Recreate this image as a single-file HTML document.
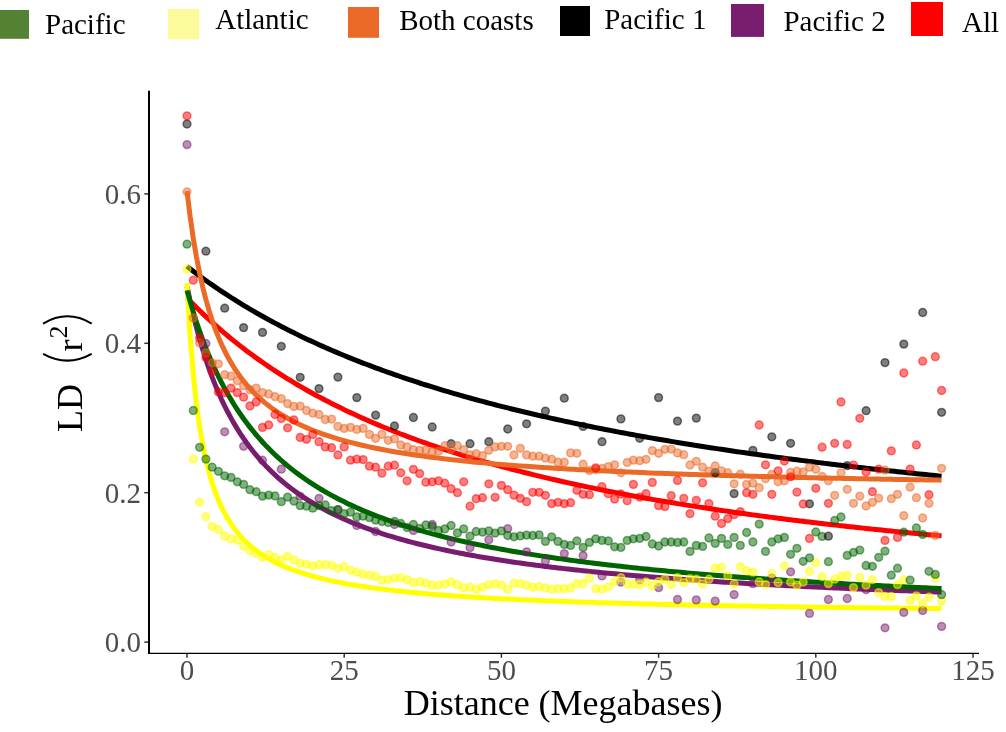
<!DOCTYPE html>
<html><head><meta charset="utf-8"><title>LD decay</title>
<style>
html,body{margin:0;padding:0;background:#fff;}
body{width:1006px;height:732px;overflow:hidden;}
svg{display:block;font-family:"Liberation Serif",serif;will-change:transform;}
</style></head><body>
<svg width="1006" height="732" viewBox="0 0 1006 732">
<rect width="1006" height="732" fill="#fff"/>

<g font-size="29" fill="#000">
<rect x="0" y="10" width="29" height="28.8" fill="#548235"/>
<text x="45" y="33.5">Pacific</text>
<rect x="168" y="9" width="31.4" height="30.4" fill="#FBFB9C"/>
<text x="215.2" y="29.4">Atlantic</text>
<rect x="348" y="7" width="31" height="30.8" fill="#EC6A27"/>
<text x="399.2" y="30.3">Both coasts</text>
<rect x="560" y="6" width="30" height="30" fill="#000000"/>
<text x="604.2" y="29.4">Pacific 1</text>
<rect x="731" y="4" width="33" height="32.9" fill="#781D6E"/>
<text x="783.4" y="31">Pacific 2</text>
<rect x="911" y="2" width="32" height="34" fill="#FF0000"/>
<text x="962" y="31.8">All</text>
</g>
<g stroke="#000" fill="none">
<line x1="149" y1="90.7" x2="149" y2="654" stroke-width="2"/>
<line x1="148" y1="653.4" x2="979" y2="653.4" stroke-width="1.3"/>
</g>
<g stroke="#333" stroke-width="1.5">
<line x1="144.3" y1="642.10" x2="148" y2="642.10"/>
<line x1="144.3" y1="492.70" x2="148" y2="492.70"/>
<line x1="144.3" y1="343.30" x2="148" y2="343.30"/>
<line x1="144.3" y1="193.90" x2="148" y2="193.90"/>
<line x1="187.00" y1="654" x2="187.00" y2="657.8"/>
<line x1="344.20" y1="654" x2="344.20" y2="657.8"/>
<line x1="501.40" y1="654" x2="501.40" y2="657.8"/>
<line x1="658.60" y1="654" x2="658.60" y2="657.8"/>
<line x1="815.80" y1="654" x2="815.80" y2="657.8"/>
<line x1="973.00" y1="654" x2="973.00" y2="657.8"/>
</g>
<g font-size="29" fill="#4D4D4D">
<text x="141" y="651.90" text-anchor="end">0.0</text>
<text x="141" y="502.50" text-anchor="end">0.2</text>
<text x="141" y="353.10" text-anchor="end">0.4</text>
<text x="141" y="203.70" text-anchor="end">0.6</text>
<text x="187.00" y="680.3" text-anchor="middle">0</text>
<text x="344.20" y="680.3" text-anchor="middle">25</text>
<text x="501.40" y="680.3" text-anchor="middle">50</text>
<text x="658.60" y="680.3" text-anchor="middle">75</text>
<text x="815.80" y="680.3" text-anchor="middle">100</text>
<text x="973.00" y="680.3" text-anchor="middle">125</text>
</g>
<text x="563.1" y="715.2" font-size="36" text-anchor="middle" fill="#000">Distance (Megabases)</text>
<g transform="translate(82,432) rotate(-90)" fill="#000">
<text x="0" y="0" font-size="36">LD</text>
<text x="80.6" y="0" font-size="36">r</text>
<text x="93.5" y="-15" font-size="26">2</text>
<path d="M78.1,-38.9 Q64.7,-14.6 78.1,9.7" fill="none" stroke="#000" stroke-width="2.1"/>
<path d="M108.4,-38.9 Q123,-14.6 108.4,9.7" fill="none" stroke="#000" stroke-width="2.1"/>
</g>
<g fill="none" stroke-width="5" stroke-linejoin="round" stroke-linecap="butt">
<path d="M187.00,266.40 L190.14,268.84 L193.29,271.24 L196.43,273.60 L199.58,275.93 L202.72,278.23 L205.86,280.49 L209.01,282.72 L212.15,284.92 L215.30,287.09 L218.44,289.23 L221.58,291.34 L224.73,293.41 L227.87,295.46 L231.02,297.49 L234.16,299.48 L237.30,301.45 L240.45,303.39 L243.59,305.31 L246.74,307.20 L249.88,309.06 L253.02,310.90 L256.17,312.72 L259.31,314.52 L262.46,316.29 L265.60,318.04 L268.74,319.76 L271.89,321.47 L275.03,323.15 L278.18,324.82 L281.32,326.46 L284.46,328.08 L287.61,329.68 L290.75,331.27 L293.90,332.83 L297.04,334.38 L300.18,335.90 L303.33,337.41 L306.47,338.91 L309.62,340.38 L312.76,341.84 L315.90,343.28 L319.05,344.70 L322.19,346.11 L325.34,347.50 L328.48,348.88 L331.62,350.24 L334.77,351.59 L337.91,352.92 L341.06,354.23 L344.20,355.53 L347.34,356.82 L350.49,358.10 L353.63,359.36 L356.78,360.60 L359.92,361.84 L363.06,363.06 L366.21,364.26 L369.35,365.46 L372.50,366.64 L375.64,367.81 L378.78,368.97 L381.93,370.11 L385.07,371.25 L388.22,372.37 L391.36,373.48 L394.50,374.58 L397.65,375.67 L400.79,376.75 L403.94,377.82 L407.08,378.87 L410.22,379.92 L413.37,380.96 L416.51,381.98 L419.66,383.00 L422.80,384.01 L425.94,385.00 L429.09,385.99 L432.23,386.97 L435.38,387.94 L438.52,388.90 L441.66,389.85 L444.81,390.79 L447.95,391.72 L451.10,392.65 L454.24,393.57 L457.38,394.47 L460.53,395.37 L463.67,396.26 L466.82,397.15 L469.96,398.02 L473.10,398.89 L476.25,399.75 L479.39,400.60 L482.54,401.45 L485.68,402.29 L488.82,403.12 L491.97,403.94 L495.11,404.75 L498.26,405.56 L501.40,406.36 L504.54,407.16 L507.69,407.95 L510.83,408.73 L513.98,409.50 L517.12,410.27 L520.26,411.03 L523.41,411.79 L526.55,412.54 L529.70,413.28 L532.84,414.02 L535.98,414.75 L539.13,415.47 L542.27,416.19 L545.42,416.91 L548.56,417.61 L551.70,418.32 L554.85,419.01 L557.99,419.70 L561.14,420.39 L564.28,421.07 L567.42,421.74 L570.57,422.41 L573.71,423.08 L576.86,423.73 L580.00,424.39 L583.14,425.04 L586.29,425.68 L589.43,426.32 L592.58,426.95 L595.72,427.58 L598.86,428.21 L602.01,428.82 L605.15,429.44 L608.30,430.05 L611.44,430.66 L614.58,431.26 L617.73,431.85 L620.87,432.45 L624.02,433.03 L627.16,433.62 L630.30,434.20 L633.45,434.77 L636.59,435.34 L639.74,435.91 L642.88,436.47 L646.02,437.03 L649.17,437.59 L652.31,438.14 L655.46,438.68 L658.60,439.23 L661.74,439.77 L664.89,440.30 L668.03,440.83 L671.18,441.36 L674.32,441.89 L677.46,442.41 L680.61,442.92 L683.75,443.44 L686.90,443.95 L690.04,444.45 L693.18,444.96 L696.33,445.46 L699.47,445.95 L702.62,446.45 L705.76,446.94 L708.90,447.42 L712.05,447.91 L715.19,448.39 L718.34,448.86 L721.48,449.34 L724.62,449.81 L727.77,450.27 L730.91,450.74 L734.06,451.20 L737.20,451.66 L740.34,452.11 L743.49,452.57 L746.63,453.02 L749.78,453.46 L752.92,453.91 L756.06,454.35 L759.21,454.79 L762.35,455.22 L765.50,455.66 L768.64,456.09 L771.78,456.51 L774.93,456.94 L778.07,457.36 L781.22,457.78 L784.36,458.20 L787.50,458.61 L790.65,459.02 L793.79,459.43 L796.94,459.84 L800.08,460.24 L803.22,460.64 L806.37,461.04 L809.51,461.44 L812.66,461.83 L815.80,462.23 L818.94,462.62 L822.09,463.00 L825.23,463.39 L828.38,463.77 L831.52,464.15 L834.66,464.53 L837.81,464.91 L840.95,465.28 L844.10,465.65 L847.24,466.02 L850.38,466.39 L853.53,466.76 L856.67,467.12 L859.82,467.48 L862.96,467.84 L866.10,468.20 L869.25,468.55 L872.39,468.90 L875.54,469.26 L878.68,469.60 L881.82,469.95 L884.97,470.30 L888.11,470.64 L891.26,470.98 L894.40,471.32 L897.54,471.66 L900.69,471.99 L903.83,472.33 L906.98,472.66 L910.12,472.99 L913.26,473.32 L916.41,473.64 L919.55,473.97 L922.70,474.29 L925.84,474.61 L928.98,474.93 L932.13,475.25 L935.27,475.57 L938.42,475.88 L941.56,476.19" stroke="#000000"/>
<path d="M187.00,297.90 L190.14,301.16 L193.29,304.36 L196.43,307.50 L199.58,310.58 L202.72,313.61 L205.86,316.58 L209.01,319.50 L212.15,322.38 L215.30,325.20 L218.44,327.97 L221.58,330.70 L224.73,333.38 L227.87,336.01 L231.02,338.60 L234.16,341.15 L237.30,343.66 L240.45,346.13 L243.59,348.55 L246.74,350.94 L249.88,353.29 L253.02,355.60 L256.17,357.88 L259.31,360.12 L262.46,362.32 L265.60,364.49 L268.74,366.63 L271.89,368.74 L275.03,370.81 L278.18,372.86 L281.32,374.87 L284.46,376.85 L287.61,378.81 L290.75,380.73 L293.90,382.63 L297.04,384.50 L300.18,386.35 L303.33,388.16 L306.47,389.96 L309.62,391.72 L312.76,393.47 L315.90,395.18 L319.05,396.88 L322.19,398.55 L325.34,400.20 L328.48,401.83 L331.62,403.43 L334.77,405.02 L337.91,406.58 L341.06,408.12 L344.20,409.64 L347.34,411.14 L350.49,412.63 L353.63,414.09 L356.78,415.54 L359.92,416.96 L363.06,418.37 L366.21,419.76 L369.35,421.13 L372.50,422.49 L375.64,423.83 L378.78,425.15 L381.93,426.46 L385.07,427.75 L388.22,429.03 L391.36,430.29 L394.50,431.53 L397.65,432.76 L400.79,433.98 L403.94,435.18 L407.08,436.37 L410.22,437.54 L413.37,438.70 L416.51,439.85 L419.66,440.98 L422.80,442.10 L425.94,443.21 L429.09,444.30 L432.23,445.39 L435.38,446.46 L438.52,447.52 L441.66,448.57 L444.81,449.60 L447.95,450.63 L451.10,451.64 L454.24,452.64 L457.38,453.63 L460.53,454.61 L463.67,455.58 L466.82,456.54 L469.96,457.49 L473.10,458.43 L476.25,459.36 L479.39,460.28 L482.54,461.20 L485.68,462.10 L488.82,462.99 L491.97,463.87 L495.11,464.75 L498.26,465.61 L501.40,466.47 L504.54,467.32 L507.69,468.15 L510.83,468.99 L513.98,469.81 L517.12,470.62 L520.26,471.43 L523.41,472.23 L526.55,473.02 L529.70,473.80 L532.84,474.58 L535.98,475.35 L539.13,476.11 L542.27,476.86 L545.42,477.61 L548.56,478.35 L551.70,479.08 L554.85,479.81 L557.99,480.52 L561.14,481.24 L564.28,481.94 L567.42,482.64 L570.57,483.33 L573.71,484.02 L576.86,484.70 L580.00,485.37 L583.14,486.04 L586.29,486.70 L589.43,487.36 L592.58,488.01 L595.72,488.65 L598.86,489.29 L602.01,489.93 L605.15,490.55 L608.30,491.18 L611.44,491.79 L614.58,492.40 L617.73,493.01 L620.87,493.61 L624.02,494.21 L627.16,494.80 L630.30,495.38 L633.45,495.96 L636.59,496.54 L639.74,497.11 L642.88,497.67 L646.02,498.24 L649.17,498.79 L652.31,499.34 L655.46,499.89 L658.60,500.43 L661.74,500.97 L664.89,501.51 L668.03,502.04 L671.18,502.56 L674.32,503.08 L677.46,503.60 L680.61,504.11 L683.75,504.62 L686.90,505.13 L690.04,505.63 L693.18,506.13 L696.33,506.62 L699.47,507.11 L702.62,507.59 L705.76,508.07 L708.90,508.55 L712.05,509.03 L715.19,509.50 L718.34,509.96 L721.48,510.43 L724.62,510.89 L727.77,511.34 L730.91,511.80 L734.06,512.24 L737.20,512.69 L740.34,513.13 L743.49,513.57 L746.63,514.01 L749.78,514.44 L752.92,514.87 L756.06,515.30 L759.21,515.72 L762.35,516.14 L765.50,516.56 L768.64,516.97 L771.78,517.38 L774.93,517.79 L778.07,518.20 L781.22,518.60 L784.36,519.00 L787.50,519.40 L790.65,519.79 L793.79,520.18 L796.94,520.57 L800.08,520.95 L803.22,521.34 L806.37,521.72 L809.51,522.09 L812.66,522.47 L815.80,522.84 L818.94,523.21 L822.09,523.58 L825.23,523.94 L828.38,524.30 L831.52,524.66 L834.66,525.02 L837.81,525.38 L840.95,525.73 L844.10,526.08 L847.24,526.43 L850.38,526.77 L853.53,527.11 L856.67,527.46 L859.82,527.79 L862.96,528.13 L866.10,528.46 L869.25,528.80 L872.39,529.13 L875.54,529.45 L878.68,529.78 L881.82,530.10 L884.97,530.42 L888.11,530.74 L891.26,531.06 L894.40,531.37 L897.54,531.69 L900.69,532.00 L903.83,532.31 L906.98,532.61 L910.12,532.92 L913.26,533.22 L916.41,533.52 L919.55,533.82 L922.70,534.12 L925.84,534.42 L928.98,534.71 L932.13,535.00 L935.27,535.29 L938.42,535.58 L941.56,535.87" stroke="#FF0000"/>
<path d="M187.00,286.38 L190.14,301.32 L193.29,314.96 L196.43,327.47 L199.58,338.99 L202.72,349.62 L205.86,359.48 L209.01,368.63 L212.15,377.15 L215.30,385.11 L218.44,392.56 L221.58,399.55 L224.73,406.12 L227.87,412.30 L231.02,418.13 L234.16,423.64 L237.30,428.86 L240.45,433.80 L243.59,438.49 L246.74,442.95 L249.88,447.19 L253.02,451.23 L256.17,455.08 L259.31,458.76 L262.46,462.28 L265.60,465.65 L268.74,468.87 L271.89,471.96 L275.03,474.93 L278.18,477.78 L281.32,480.51 L284.46,483.15 L287.61,485.68 L290.75,488.12 L293.90,490.48 L297.04,492.75 L300.18,494.94 L303.33,497.05 L306.47,499.10 L309.62,501.08 L312.76,502.99 L315.90,504.84 L319.05,506.64 L322.19,508.37 L325.34,510.06 L328.48,511.69 L331.62,513.28 L334.77,514.82 L337.91,516.32 L341.06,517.77 L344.20,519.18 L347.34,520.56 L350.49,521.90 L353.63,523.20 L356.78,524.46 L359.92,525.70 L363.06,526.90 L366.21,528.07 L369.35,529.21 L372.50,530.33 L375.64,531.42 L378.78,532.48 L381.93,533.51 L385.07,534.52 L388.22,535.51 L391.36,536.48 L394.50,537.42 L397.65,538.34 L400.79,539.24 L403.94,540.12 L407.08,540.99 L410.22,541.83 L413.37,542.66 L416.51,543.46 L419.66,544.26 L422.80,545.03 L425.94,545.79 L429.09,546.53 L432.23,547.26 L435.38,547.98 L438.52,548.68 L441.66,549.37 L444.81,550.04 L447.95,550.70 L451.10,551.35 L454.24,551.99 L457.38,552.61 L460.53,553.23 L463.67,553.83 L466.82,554.42 L469.96,555.00 L473.10,555.57 L476.25,556.13 L479.39,556.69 L482.54,557.23 L485.68,557.76 L488.82,558.28 L491.97,558.80 L495.11,559.30 L498.26,559.80 L501.40,560.29 L504.54,560.77 L507.69,561.25 L510.83,561.71 L513.98,562.17 L517.12,562.63 L520.26,563.07 L523.41,563.51 L526.55,563.94 L529.70,564.36 L532.84,564.78 L535.98,565.20 L539.13,565.60 L542.27,566.00 L545.42,566.40 L548.56,566.78 L551.70,567.17 L554.85,567.54 L557.99,567.92 L561.14,568.28 L564.28,568.64 L567.42,569.00 L570.57,569.35 L573.71,569.70 L576.86,570.04 L580.00,570.38 L583.14,570.71 L586.29,571.04 L589.43,571.37 L592.58,571.69 L595.72,572.00 L598.86,572.31 L602.01,572.62 L605.15,572.92 L608.30,573.22 L611.44,573.52 L614.58,573.81 L617.73,574.10 L620.87,574.39 L624.02,574.67 L627.16,574.95 L630.30,575.22 L633.45,575.49 L636.59,575.76 L639.74,576.03 L642.88,576.29 L646.02,576.55 L649.17,576.80 L652.31,577.05 L655.46,577.30 L658.60,577.55 L661.74,577.79 L664.89,578.04 L668.03,578.27 L671.18,578.51 L674.32,578.74 L677.46,578.97 L680.61,579.20 L683.75,579.43 L686.90,579.65 L690.04,579.87 L693.18,580.09 L696.33,580.30 L699.47,580.52 L702.62,580.73 L705.76,580.94 L708.90,581.15 L712.05,581.35 L715.19,581.55 L718.34,581.75 L721.48,581.95 L724.62,582.15 L727.77,582.34 L730.91,582.53 L734.06,582.72 L737.20,582.91 L740.34,583.10 L743.49,583.28 L746.63,583.47 L749.78,583.65 L752.92,583.83 L756.06,584.00 L759.21,584.18 L762.35,584.35 L765.50,584.53 L768.64,584.70 L771.78,584.87 L774.93,585.03 L778.07,585.20 L781.22,585.36 L784.36,585.53 L787.50,585.69 L790.65,585.85 L793.79,586.01 L796.94,586.16 L800.08,586.32 L803.22,586.47 L806.37,586.63 L809.51,586.78 L812.66,586.93 L815.80,587.08 L818.94,587.22 L822.09,587.37 L825.23,587.51 L828.38,587.66 L831.52,587.80 L834.66,587.94 L837.81,588.08 L840.95,588.22 L844.10,588.36 L847.24,588.49 L850.38,588.63 L853.53,588.76 L856.67,588.89 L859.82,589.02 L862.96,589.16 L866.10,589.28 L869.25,589.41 L872.39,589.54 L875.54,589.67 L878.68,589.79 L881.82,589.92 L884.97,590.04 L888.11,590.16 L891.26,590.28 L894.40,590.40 L897.54,590.52 L900.69,590.64 L903.83,590.76 L906.98,590.87 L910.12,590.99 L913.26,591.10 L916.41,591.22 L919.55,591.33 L922.70,591.44 L925.84,591.55 L928.98,591.66 L932.13,591.77 L935.27,591.88 L938.42,591.99 L941.56,592.10" stroke="#781D6E"/>
<path d="M187.00,283.18 L190.14,336.20 L193.29,374.53 L196.43,403.55 L199.58,426.29 L202.72,444.59 L205.86,459.64 L209.01,472.24 L212.15,482.94 L215.30,492.14 L218.44,500.14 L221.58,507.16 L224.73,513.37 L227.87,518.91 L231.02,523.87 L234.16,528.34 L237.30,532.40 L240.45,536.10 L243.59,539.48 L246.74,542.58 L249.88,545.44 L253.02,548.08 L256.17,550.53 L259.31,552.81 L262.46,554.93 L265.60,556.92 L268.74,558.78 L271.89,560.52 L275.03,562.16 L278.18,563.71 L281.32,565.17 L284.46,566.55 L287.61,567.86 L290.75,569.10 L293.90,570.27 L297.04,571.39 L300.18,572.45 L303.33,573.47 L306.47,574.44 L309.62,575.36 L312.76,576.25 L315.90,577.09 L319.05,577.91 L322.19,578.68 L325.34,579.43 L328.48,580.15 L331.62,580.84 L334.77,581.50 L337.91,582.14 L341.06,582.76 L344.20,583.35 L347.34,583.92 L350.49,584.47 L353.63,585.01 L356.78,585.53 L359.92,586.02 L363.06,586.51 L366.21,586.98 L369.35,587.43 L372.50,587.87 L375.64,588.29 L378.78,588.71 L381.93,589.11 L385.07,589.50 L388.22,589.88 L391.36,590.24 L394.50,590.60 L397.65,590.95 L400.79,591.29 L403.94,591.62 L407.08,591.94 L410.22,592.25 L413.37,592.55 L416.51,592.85 L419.66,593.14 L422.80,593.42 L425.94,593.69 L429.09,593.96 L432.23,594.23 L435.38,594.48 L438.52,594.73 L441.66,594.98 L444.81,595.21 L447.95,595.45 L451.10,595.68 L454.24,595.90 L457.38,596.12 L460.53,596.33 L463.67,596.54 L466.82,596.74 L469.96,596.94 L473.10,597.14 L476.25,597.33 L479.39,597.52 L482.54,597.71 L485.68,597.89 L488.82,598.06 L491.97,598.24 L495.11,598.41 L498.26,598.58 L501.40,598.74 L504.54,598.90 L507.69,599.06 L510.83,599.22 L513.98,599.37 L517.12,599.52 L520.26,599.67 L523.41,599.81 L526.55,599.95 L529.70,600.09 L532.84,600.23 L535.98,600.36 L539.13,600.50 L542.27,600.63 L545.42,600.75 L548.56,600.88 L551.70,601.00 L554.85,601.13 L557.99,601.25 L561.14,601.36 L564.28,601.48 L567.42,601.59 L570.57,601.71 L573.71,601.82 L576.86,601.93 L580.00,602.03 L583.14,602.14 L586.29,602.24 L589.43,602.35 L592.58,602.45 L595.72,602.55 L598.86,602.65 L602.01,602.74 L605.15,602.84 L608.30,602.93 L611.44,603.03 L614.58,603.12 L617.73,603.21 L620.87,603.30 L624.02,603.38 L627.16,603.47 L630.30,603.56 L633.45,603.64 L636.59,603.72 L639.74,603.80 L642.88,603.89 L646.02,603.97 L649.17,604.04 L652.31,604.12 L655.46,604.20 L658.60,604.27 L661.74,604.35 L664.89,604.42 L668.03,604.50 L671.18,604.57 L674.32,604.64 L677.46,604.71 L680.61,604.78 L683.75,604.85 L686.90,604.91 L690.04,604.98 L693.18,605.05 L696.33,605.11 L699.47,605.18 L702.62,605.24 L705.76,605.30 L708.90,605.37 L712.05,605.43 L715.19,605.49 L718.34,605.55 L721.48,605.61 L724.62,605.67 L727.77,605.73 L730.91,605.78 L734.06,605.84 L737.20,605.90 L740.34,605.95 L743.49,606.01 L746.63,606.06 L749.78,606.12 L752.92,606.17 L756.06,606.22 L759.21,606.27 L762.35,606.32 L765.50,606.38 L768.64,606.43 L771.78,606.48 L774.93,606.53 L778.07,606.57 L781.22,606.62 L784.36,606.67 L787.50,606.72 L790.65,606.77 L793.79,606.81 L796.94,606.86 L800.08,606.90 L803.22,606.95 L806.37,606.99 L809.51,607.04 L812.66,607.08 L815.80,607.13 L818.94,607.17 L822.09,607.21 L825.23,607.25 L828.38,607.30 L831.52,607.34 L834.66,607.38 L837.81,607.42 L840.95,607.46 L844.10,607.50 L847.24,607.54 L850.38,607.58 L853.53,607.62 L856.67,607.65 L859.82,607.69 L862.96,607.73 L866.10,607.77 L869.25,607.80 L872.39,607.84 L875.54,607.88 L878.68,607.91 L881.82,607.95 L884.97,607.98 L888.11,608.02 L891.26,608.05 L894.40,608.09 L897.54,608.12 L900.69,608.16 L903.83,608.19 L906.98,608.22 L910.12,608.26 L913.26,608.29 L916.41,608.32 L919.55,608.36 L922.70,608.39 L925.84,608.42 L928.98,608.45 L932.13,608.48 L935.27,608.51 L938.42,608.54 L941.56,608.57" stroke="#FFFF00"/>
<path d="M187.00,290.41 L190.14,301.64 L193.29,312.13 L196.43,321.96 L199.58,331.18 L202.72,339.86 L205.86,348.03 L209.01,355.74 L212.15,363.03 L215.30,369.93 L218.44,376.48 L221.58,382.69 L224.73,388.60 L227.87,394.22 L231.02,399.58 L234.16,404.70 L237.30,409.58 L240.45,414.25 L243.59,418.72 L246.74,423.01 L249.88,427.11 L253.02,431.05 L256.17,434.84 L259.31,438.48 L262.46,441.98 L265.60,445.36 L268.74,448.60 L271.89,451.74 L275.03,454.76 L278.18,457.68 L281.32,460.49 L284.46,463.22 L287.61,465.85 L290.75,468.40 L293.90,470.87 L297.04,473.26 L300.18,475.58 L303.33,477.82 L306.47,480.00 L309.62,482.12 L312.76,484.17 L315.90,486.17 L319.05,488.11 L322.19,489.99 L325.34,491.83 L328.48,493.61 L331.62,495.35 L334.77,497.04 L337.91,498.69 L341.06,500.29 L344.20,501.85 L347.34,503.38 L350.49,504.87 L353.63,506.32 L356.78,507.74 L359.92,509.12 L363.06,510.47 L366.21,511.79 L369.35,513.08 L372.50,514.34 L375.64,515.57 L378.78,516.77 L381.93,517.95 L385.07,519.10 L388.22,520.23 L391.36,521.33 L394.50,522.41 L397.65,523.47 L400.79,524.51 L403.94,525.52 L407.08,526.52 L410.22,527.49 L413.37,528.45 L416.51,529.39 L419.66,530.31 L422.80,531.21 L425.94,532.09 L429.09,532.96 L432.23,533.81 L435.38,534.65 L438.52,535.47 L441.66,536.28 L444.81,537.07 L447.95,537.85 L451.10,538.61 L454.24,539.36 L457.38,540.10 L460.53,540.82 L463.67,541.53 L466.82,542.24 L469.96,542.92 L473.10,543.60 L476.25,544.27 L479.39,544.92 L482.54,545.57 L485.68,546.20 L488.82,546.83 L491.97,547.44 L495.11,548.05 L498.26,548.64 L501.40,549.23 L504.54,549.81 L507.69,550.38 L510.83,550.94 L513.98,551.49 L517.12,552.03 L520.26,552.57 L523.41,553.10 L526.55,553.62 L529.70,554.13 L532.84,554.63 L535.98,555.13 L539.13,555.62 L542.27,556.11 L545.42,556.59 L548.56,557.06 L551.70,557.52 L554.85,557.98 L557.99,558.43 L561.14,558.88 L564.28,559.32 L567.42,559.75 L570.57,560.18 L573.71,560.61 L576.86,561.02 L580.00,561.44 L583.14,561.84 L586.29,562.24 L589.43,562.64 L592.58,563.03 L595.72,563.42 L598.86,563.80 L602.01,564.18 L605.15,564.55 L608.30,564.92 L611.44,565.29 L614.58,565.64 L617.73,566.00 L620.87,566.35 L624.02,566.70 L627.16,567.04 L630.30,567.38 L633.45,567.71 L636.59,568.05 L639.74,568.37 L642.88,568.70 L646.02,569.02 L649.17,569.33 L652.31,569.64 L655.46,569.95 L658.60,570.26 L661.74,570.56 L664.89,570.86 L668.03,571.16 L671.18,571.45 L674.32,571.74 L677.46,572.03 L680.61,572.31 L683.75,572.59 L686.90,572.87 L690.04,573.14 L693.18,573.41 L696.33,573.68 L699.47,573.95 L702.62,574.21 L705.76,574.47 L708.90,574.73 L712.05,574.99 L715.19,575.24 L718.34,575.49 L721.48,575.74 L724.62,575.98 L727.77,576.22 L730.91,576.47 L734.06,576.70 L737.20,576.94 L740.34,577.17 L743.49,577.40 L746.63,577.63 L749.78,577.86 L752.92,578.09 L756.06,578.31 L759.21,578.53 L762.35,578.75 L765.50,578.96 L768.64,579.18 L771.78,579.39 L774.93,579.60 L778.07,579.81 L781.22,580.02 L784.36,580.22 L787.50,580.43 L790.65,580.63 L793.79,580.83 L796.94,581.02 L800.08,581.22 L803.22,581.42 L806.37,581.61 L809.51,581.80 L812.66,581.99 L815.80,582.18 L818.94,582.36 L822.09,582.55 L825.23,582.73 L828.38,582.91 L831.52,583.09 L834.66,583.27 L837.81,583.45 L840.95,583.62 L844.10,583.79 L847.24,583.97 L850.38,584.14 L853.53,584.31 L856.67,584.48 L859.82,584.64 L862.96,584.81 L866.10,584.97 L869.25,585.13 L872.39,585.30 L875.54,585.46 L878.68,585.62 L881.82,585.77 L884.97,585.93 L888.11,586.08 L891.26,586.24 L894.40,586.39 L897.54,586.54 L900.69,586.69 L903.83,586.84 L906.98,586.99 L910.12,587.14 L913.26,587.28 L916.41,587.43 L919.55,587.57 L922.70,587.72 L925.84,587.86 L928.98,588.00 L932.13,588.14 L935.27,588.28 L938.42,588.41 L941.56,588.55" stroke="#006400"/>
<path d="M187.00,191.09 L190.14,216.66 L193.29,238.31 L196.43,256.87 L199.58,272.95 L202.72,287.02 L205.86,299.42 L209.01,310.43 L212.15,320.27 L215.30,329.12 L218.44,337.12 L221.58,344.39 L224.73,351.02 L227.87,357.08 L231.02,362.66 L234.16,367.81 L237.30,372.56 L240.45,376.98 L243.59,381.08 L246.74,384.91 L249.88,388.48 L253.02,391.83 L256.17,394.98 L259.31,397.93 L262.46,400.72 L265.60,403.35 L268.74,405.83 L271.89,408.18 L275.03,410.41 L278.18,412.52 L281.32,414.53 L284.46,416.45 L287.61,418.27 L290.75,420.01 L293.90,421.67 L297.04,423.25 L300.18,424.77 L303.33,426.22 L306.47,427.62 L309.62,428.95 L312.76,430.23 L315.90,431.47 L319.05,432.65 L322.19,433.79 L325.34,434.89 L328.48,435.95 L331.62,436.97 L334.77,437.95 L337.91,438.90 L341.06,439.82 L344.20,440.71 L347.34,441.57 L350.49,442.40 L353.63,443.20 L356.78,443.98 L359.92,444.73 L363.06,445.47 L366.21,446.18 L369.35,446.87 L372.50,447.53 L375.64,448.18 L378.78,448.82 L381.93,449.43 L385.07,450.03 L388.22,450.61 L391.36,451.17 L394.50,451.72 L397.65,452.26 L400.79,452.78 L403.94,453.29 L407.08,453.78 L410.22,454.27 L413.37,454.74 L416.51,455.20 L419.66,455.65 L422.80,456.08 L425.94,456.51 L429.09,456.93 L432.23,457.34 L435.38,457.74 L438.52,458.13 L441.66,458.51 L444.81,458.88 L447.95,459.25 L451.10,459.61 L454.24,459.96 L457.38,460.30 L460.53,460.63 L463.67,460.96 L466.82,461.28 L469.96,461.60 L473.10,461.91 L476.25,462.21 L479.39,462.51 L482.54,462.80 L485.68,463.08 L488.82,463.36 L491.97,463.64 L495.11,463.91 L498.26,464.17 L501.40,464.43 L504.54,464.69 L507.69,464.94 L510.83,465.19 L513.98,465.43 L517.12,465.66 L520.26,465.90 L523.41,466.13 L526.55,466.35 L529.70,466.57 L532.84,466.79 L535.98,467.00 L539.13,467.22 L542.27,467.42 L545.42,467.63 L548.56,467.83 L551.70,468.02 L554.85,468.22 L557.99,468.41 L561.14,468.60 L564.28,468.78 L567.42,468.96 L570.57,469.14 L573.71,469.32 L576.86,469.49 L580.00,469.67 L583.14,469.83 L586.29,470.00 L589.43,470.16 L592.58,470.33 L595.72,470.49 L598.86,470.64 L602.01,470.80 L605.15,470.95 L608.30,471.10 L611.44,471.25 L614.58,471.39 L617.73,471.54 L620.87,471.68 L624.02,471.82 L627.16,471.96 L630.30,472.10 L633.45,472.23 L636.59,472.36 L639.74,472.50 L642.88,472.62 L646.02,472.75 L649.17,472.88 L652.31,473.00 L655.46,473.13 L658.60,473.25 L661.74,473.37 L664.89,473.49 L668.03,473.60 L671.18,473.72 L674.32,473.83 L677.46,473.95 L680.61,474.06 L683.75,474.17 L686.90,474.28 L690.04,474.38 L693.18,474.49 L696.33,474.59 L699.47,474.70 L702.62,474.80 L705.76,474.90 L708.90,475.00 L712.05,475.10 L715.19,475.20 L718.34,475.29 L721.48,475.39 L724.62,475.48 L727.77,475.58 L730.91,475.67 L734.06,475.76 L737.20,475.85 L740.34,475.94 L743.49,476.03 L746.63,476.12 L749.78,476.20 L752.92,476.29 L756.06,476.37 L759.21,476.46 L762.35,476.54 L765.50,476.62 L768.64,476.70 L771.78,476.79 L774.93,476.87 L778.07,476.94 L781.22,477.02 L784.36,477.10 L787.50,477.18 L790.65,477.25 L793.79,477.33 L796.94,477.40 L800.08,477.47 L803.22,477.55 L806.37,477.62 L809.51,477.69 L812.66,477.76 L815.80,477.83 L818.94,477.90 L822.09,477.97 L825.23,478.04 L828.38,478.10 L831.52,478.17 L834.66,478.24 L837.81,478.30 L840.95,478.37 L844.10,478.43 L847.24,478.49 L850.38,478.56 L853.53,478.62 L856.67,478.68 L859.82,478.74 L862.96,478.80 L866.10,478.86 L869.25,478.92 L872.39,478.98 L875.54,479.04 L878.68,479.10 L881.82,479.16 L884.97,479.22 L888.11,479.27 L891.26,479.33 L894.40,479.38 L897.54,479.44 L900.69,479.49 L903.83,479.55 L906.98,479.60 L910.12,479.66 L913.26,479.71 L916.41,479.76 L919.55,479.81 L922.70,479.86 L925.84,479.92 L928.98,479.97 L932.13,480.02 L935.27,480.07 L938.42,480.12 L941.56,480.17" stroke="#EB6A27"/>
</g>
<g fill="#781D6E" fill-opacity="0.5" stroke="#781D6E" stroke-opacity="0.5" stroke-width="1.5">
<circle cx="187.0" cy="144.6" r="3.9"/>
<circle cx="205.9" cy="343.5" r="3.9"/>
<circle cx="224.7" cy="431.8" r="3.9"/>
<circle cx="243.6" cy="446.3" r="3.9"/>
<circle cx="262.5" cy="460.2" r="3.9"/>
<circle cx="281.3" cy="469.2" r="3.9"/>
<circle cx="300.2" cy="496.3" r="3.9"/>
<circle cx="319.0" cy="498.3" r="3.9"/>
<circle cx="337.9" cy="509.7" r="3.9"/>
<circle cx="356.8" cy="525.5" r="3.9"/>
<circle cx="375.6" cy="531.5" r="3.9"/>
<circle cx="394.5" cy="524.5" r="3.9"/>
<circle cx="413.4" cy="530.5" r="3.9"/>
<circle cx="432.2" cy="524.5" r="3.9"/>
<circle cx="451.1" cy="542.0" r="3.9"/>
<circle cx="470.0" cy="547.6" r="3.9"/>
<circle cx="488.8" cy="539.7" r="3.9"/>
<circle cx="507.7" cy="528.7" r="3.9"/>
<circle cx="526.6" cy="551.9" r="3.9"/>
<circle cx="545.4" cy="561.0" r="3.9"/>
<circle cx="564.3" cy="553.6" r="3.9"/>
<circle cx="583.1" cy="555.6" r="3.9"/>
<circle cx="602.0" cy="575.9" r="3.9"/>
<circle cx="620.9" cy="582.1" r="3.9"/>
<circle cx="639.7" cy="579.9" r="3.9"/>
<circle cx="658.6" cy="587.6" r="3.9"/>
<circle cx="677.5" cy="599.5" r="3.9"/>
<circle cx="696.3" cy="599.9" r="3.9"/>
<circle cx="715.2" cy="601.1" r="3.9"/>
<circle cx="734.1" cy="594.6" r="3.9"/>
<circle cx="752.9" cy="583.6" r="3.9"/>
<circle cx="771.8" cy="578.1" r="3.9"/>
<circle cx="790.6" cy="571.8" r="3.9"/>
<circle cx="809.5" cy="613.4" r="3.9"/>
<circle cx="828.4" cy="599.5" r="3.9"/>
<circle cx="847.2" cy="598.5" r="3.9"/>
<circle cx="866.1" cy="589.6" r="3.9"/>
<circle cx="885.0" cy="627.8" r="3.9"/>
<circle cx="903.8" cy="612.4" r="3.9"/>
<circle cx="922.7" cy="610.5" r="3.9"/>
<circle cx="941.6" cy="626.4" r="3.9"/>
</g>
<g fill="#FFFF00" fill-opacity="0.5" stroke="#FFFF00" stroke-opacity="0.5" stroke-width="1.5">
<circle cx="187.0" cy="269.1" r="3.9"/>
<circle cx="193.3" cy="459.2" r="3.9"/>
<circle cx="199.6" cy="502.3" r="3.9"/>
<circle cx="205.9" cy="516.6" r="3.9"/>
<circle cx="212.2" cy="526.5" r="3.9"/>
<circle cx="218.4" cy="529.5" r="3.9"/>
<circle cx="224.7" cy="536.1" r="3.9"/>
<circle cx="231.0" cy="538.8" r="3.9"/>
<circle cx="237.3" cy="540.0" r="3.9"/>
<circle cx="243.6" cy="546.0" r="3.9"/>
<circle cx="249.9" cy="550.8" r="3.9"/>
<circle cx="256.2" cy="553.3" r="3.9"/>
<circle cx="262.5" cy="557.3" r="3.9"/>
<circle cx="268.7" cy="554.7" r="3.9"/>
<circle cx="275.0" cy="557.3" r="3.9"/>
<circle cx="281.3" cy="559.9" r="3.9"/>
<circle cx="287.6" cy="556.3" r="3.9"/>
<circle cx="293.9" cy="559.9" r="3.9"/>
<circle cx="300.2" cy="563.3" r="3.9"/>
<circle cx="306.5" cy="564.3" r="3.9"/>
<circle cx="312.8" cy="565.9" r="3.9"/>
<circle cx="319.0" cy="564.7" r="3.9"/>
<circle cx="325.3" cy="564.7" r="3.9"/>
<circle cx="331.6" cy="565.3" r="3.9"/>
<circle cx="337.9" cy="568.3" r="3.9"/>
<circle cx="344.2" cy="566.7" r="3.9"/>
<circle cx="350.5" cy="570.2" r="3.9"/>
<circle cx="356.8" cy="572.2" r="3.9"/>
<circle cx="363.1" cy="574.2" r="3.9"/>
<circle cx="369.4" cy="575.2" r="3.9"/>
<circle cx="375.6" cy="576.2" r="3.9"/>
<circle cx="381.9" cy="580.2" r="3.9"/>
<circle cx="388.2" cy="579.6" r="3.9"/>
<circle cx="394.5" cy="578.1" r="3.9"/>
<circle cx="400.8" cy="577.7" r="3.9"/>
<circle cx="407.1" cy="579.6" r="3.9"/>
<circle cx="413.4" cy="582.6" r="3.9"/>
<circle cx="419.7" cy="581.6" r="3.9"/>
<circle cx="425.9" cy="583.2" r="3.9"/>
<circle cx="432.2" cy="585.2" r="3.9"/>
<circle cx="438.5" cy="585.2" r="3.9"/>
<circle cx="444.8" cy="584.0" r="3.9"/>
<circle cx="451.1" cy="582.0" r="3.9"/>
<circle cx="457.4" cy="584.6" r="3.9"/>
<circle cx="463.7" cy="588.0" r="3.9"/>
<circle cx="470.0" cy="587.2" r="3.9"/>
<circle cx="476.2" cy="589.2" r="3.9"/>
<circle cx="482.5" cy="587.2" r="3.9"/>
<circle cx="488.8" cy="584.6" r="3.9"/>
<circle cx="495.1" cy="584.0" r="3.9"/>
<circle cx="501.4" cy="585.2" r="3.9"/>
<circle cx="507.7" cy="589.2" r="3.9"/>
<circle cx="514.0" cy="583.2" r="3.9"/>
<circle cx="520.3" cy="583.6" r="3.9"/>
<circle cx="526.6" cy="585.2" r="3.9"/>
<circle cx="532.8" cy="587.2" r="3.9"/>
<circle cx="539.1" cy="586.6" r="3.9"/>
<circle cx="545.4" cy="588.0" r="3.9"/>
<circle cx="551.7" cy="589.2" r="3.9"/>
<circle cx="558.0" cy="588.6" r="3.9"/>
<circle cx="564.3" cy="588.6" r="3.9"/>
<circle cx="570.6" cy="588.0" r="3.9"/>
<circle cx="576.9" cy="583.6" r="3.9"/>
<circle cx="583.1" cy="583.6" r="3.9"/>
<circle cx="589.4" cy="578.1" r="3.9"/>
<circle cx="595.7" cy="588.6" r="3.9"/>
<circle cx="602.0" cy="589.2" r="3.9"/>
<circle cx="608.3" cy="587.0" r="3.9"/>
<circle cx="614.6" cy="581.6" r="3.9"/>
<circle cx="620.9" cy="577.7" r="3.9"/>
<circle cx="627.2" cy="584.0" r="3.9"/>
<circle cx="633.4" cy="584.0" r="3.9"/>
<circle cx="639.7" cy="584.6" r="3.9"/>
<circle cx="646.0" cy="582.0" r="3.9"/>
<circle cx="652.3" cy="586.0" r="3.9"/>
<circle cx="658.6" cy="581.6" r="3.9"/>
<circle cx="664.9" cy="579.2" r="3.9"/>
<circle cx="671.2" cy="584.6" r="3.9"/>
<circle cx="677.5" cy="577.7" r="3.9"/>
<circle cx="683.8" cy="582.6" r="3.9"/>
<circle cx="690.0" cy="578.6" r="3.9"/>
<circle cx="696.3" cy="579.2" r="3.9"/>
<circle cx="702.6" cy="584.0" r="3.9"/>
<circle cx="708.9" cy="579.2" r="3.9"/>
<circle cx="715.2" cy="568.1" r="3.9"/>
<circle cx="721.5" cy="567.1" r="3.9"/>
<circle cx="727.8" cy="575.7" r="3.9"/>
<circle cx="734.1" cy="584.0" r="3.9"/>
<circle cx="740.3" cy="566.7" r="3.9"/>
<circle cx="746.6" cy="570.7" r="3.9"/>
<circle cx="752.9" cy="572.1" r="3.9"/>
<circle cx="759.2" cy="582.0" r="3.9"/>
<circle cx="765.5" cy="584.6" r="3.9"/>
<circle cx="771.8" cy="573.7" r="3.9"/>
<circle cx="778.1" cy="582.6" r="3.9"/>
<circle cx="784.4" cy="566.0" r="3.9"/>
<circle cx="790.6" cy="582.0" r="3.9"/>
<circle cx="796.9" cy="585.2" r="3.9"/>
<circle cx="803.2" cy="582.0" r="3.9"/>
<circle cx="809.5" cy="571.3" r="3.9"/>
<circle cx="815.8" cy="562.7" r="3.9"/>
<circle cx="822.1" cy="576.6" r="3.9"/>
<circle cx="828.4" cy="583.6" r="3.9"/>
<circle cx="834.7" cy="579.2" r="3.9"/>
<circle cx="841.0" cy="576.1" r="3.9"/>
<circle cx="847.2" cy="575.4" r="3.9"/>
<circle cx="853.5" cy="587.6" r="3.9"/>
<circle cx="859.8" cy="577.4" r="3.9"/>
<circle cx="866.1" cy="585.2" r="3.9"/>
<circle cx="872.4" cy="579.7" r="3.9"/>
<circle cx="878.7" cy="592.6" r="3.9"/>
<circle cx="885.0" cy="596.5" r="3.9"/>
<circle cx="891.3" cy="596.5" r="3.9"/>
<circle cx="897.5" cy="584.6" r="3.9"/>
<circle cx="903.8" cy="579.7" r="3.9"/>
<circle cx="910.1" cy="600.5" r="3.9"/>
<circle cx="916.4" cy="595.9" r="3.9"/>
<circle cx="922.7" cy="603.5" r="3.9"/>
<circle cx="929.0" cy="597.1" r="3.9"/>
<circle cx="935.3" cy="578.1" r="3.9"/>
<circle cx="941.6" cy="601.1" r="3.9"/>
</g>
<g fill="#006400" fill-opacity="0.5" stroke="#006400" stroke-opacity="0.5" stroke-width="1.5">
<circle cx="187.0" cy="244.2" r="3.9"/>
<circle cx="193.3" cy="410.5" r="3.9"/>
<circle cx="199.6" cy="447.3" r="3.9"/>
<circle cx="205.9" cy="459.1" r="3.9"/>
<circle cx="212.2" cy="467.2" r="3.9"/>
<circle cx="218.4" cy="471.3" r="3.9"/>
<circle cx="224.7" cy="475.8" r="3.9"/>
<circle cx="231.0" cy="477.4" r="3.9"/>
<circle cx="237.3" cy="481.8" r="3.9"/>
<circle cx="243.6" cy="484.4" r="3.9"/>
<circle cx="249.9" cy="489.7" r="3.9"/>
<circle cx="256.2" cy="491.7" r="3.9"/>
<circle cx="262.5" cy="496.1" r="3.9"/>
<circle cx="268.7" cy="495.1" r="3.9"/>
<circle cx="275.0" cy="495.9" r="3.9"/>
<circle cx="281.3" cy="501.7" r="3.9"/>
<circle cx="287.6" cy="497.1" r="3.9"/>
<circle cx="293.9" cy="501.1" r="3.9"/>
<circle cx="300.2" cy="505.6" r="3.9"/>
<circle cx="306.5" cy="506.2" r="3.9"/>
<circle cx="312.8" cy="508.2" r="3.9"/>
<circle cx="319.0" cy="505.6" r="3.9"/>
<circle cx="325.3" cy="505.0" r="3.9"/>
<circle cx="331.6" cy="510.6" r="3.9"/>
<circle cx="337.9" cy="509.6" r="3.9"/>
<circle cx="344.2" cy="513.6" r="3.9"/>
<circle cx="350.5" cy="512.2" r="3.9"/>
<circle cx="356.8" cy="517.0" r="3.9"/>
<circle cx="363.1" cy="516.2" r="3.9"/>
<circle cx="369.4" cy="517.6" r="3.9"/>
<circle cx="375.6" cy="520.1" r="3.9"/>
<circle cx="381.9" cy="521.5" r="3.9"/>
<circle cx="388.2" cy="522.5" r="3.9"/>
<circle cx="394.5" cy="521.5" r="3.9"/>
<circle cx="400.8" cy="523.5" r="3.9"/>
<circle cx="407.1" cy="527.5" r="3.9"/>
<circle cx="413.4" cy="524.5" r="3.9"/>
<circle cx="419.7" cy="528.5" r="3.9"/>
<circle cx="425.9" cy="524.9" r="3.9"/>
<circle cx="432.2" cy="526.5" r="3.9"/>
<circle cx="438.5" cy="530.5" r="3.9"/>
<circle cx="444.8" cy="528.9" r="3.9"/>
<circle cx="451.1" cy="525.5" r="3.9"/>
<circle cx="457.4" cy="532.9" r="3.9"/>
<circle cx="463.7" cy="528.9" r="3.9"/>
<circle cx="470.0" cy="536.1" r="3.9"/>
<circle cx="476.2" cy="531.5" r="3.9"/>
<circle cx="482.5" cy="532.1" r="3.9"/>
<circle cx="488.8" cy="530.9" r="3.9"/>
<circle cx="495.1" cy="533.1" r="3.9"/>
<circle cx="501.4" cy="530.9" r="3.9"/>
<circle cx="507.7" cy="535.5" r="3.9"/>
<circle cx="514.0" cy="536.8" r="3.9"/>
<circle cx="520.3" cy="535.9" r="3.9"/>
<circle cx="526.6" cy="535.1" r="3.9"/>
<circle cx="532.8" cy="535.5" r="3.9"/>
<circle cx="539.1" cy="534.9" r="3.9"/>
<circle cx="545.4" cy="541.4" r="3.9"/>
<circle cx="551.7" cy="536.8" r="3.9"/>
<circle cx="558.0" cy="541.4" r="3.9"/>
<circle cx="564.3" cy="544.4" r="3.9"/>
<circle cx="570.6" cy="545.4" r="3.9"/>
<circle cx="576.9" cy="540.8" r="3.9"/>
<circle cx="583.1" cy="547.4" r="3.9"/>
<circle cx="589.4" cy="542.4" r="3.9"/>
<circle cx="595.7" cy="538.8" r="3.9"/>
<circle cx="602.0" cy="540.4" r="3.9"/>
<circle cx="608.3" cy="541.0" r="3.9"/>
<circle cx="614.6" cy="546.8" r="3.9"/>
<circle cx="620.9" cy="547.4" r="3.9"/>
<circle cx="627.2" cy="540.4" r="3.9"/>
<circle cx="633.4" cy="538.8" r="3.9"/>
<circle cx="639.7" cy="538.4" r="3.9"/>
<circle cx="646.0" cy="536.5" r="3.9"/>
<circle cx="652.3" cy="544.0" r="3.9"/>
<circle cx="658.6" cy="546.0" r="3.9"/>
<circle cx="664.9" cy="542.0" r="3.9"/>
<circle cx="671.2" cy="542.0" r="3.9"/>
<circle cx="677.5" cy="542.4" r="3.9"/>
<circle cx="683.8" cy="542.0" r="3.9"/>
<circle cx="690.0" cy="551.4" r="3.9"/>
<circle cx="696.3" cy="545.4" r="3.9"/>
<circle cx="702.6" cy="546.4" r="3.9"/>
<circle cx="708.9" cy="538.0" r="3.9"/>
<circle cx="715.2" cy="543.4" r="3.9"/>
<circle cx="721.5" cy="538.4" r="3.9"/>
<circle cx="727.8" cy="544.4" r="3.9"/>
<circle cx="734.1" cy="537.4" r="3.9"/>
<circle cx="740.3" cy="545.4" r="3.9"/>
<circle cx="746.6" cy="532.5" r="3.9"/>
<circle cx="752.9" cy="542.0" r="3.9"/>
<circle cx="759.2" cy="524.1" r="3.9"/>
<circle cx="765.5" cy="551.4" r="3.9"/>
<circle cx="771.8" cy="542.0" r="3.9"/>
<circle cx="778.1" cy="538.8" r="3.9"/>
<circle cx="784.4" cy="537.4" r="3.9"/>
<circle cx="790.6" cy="554.3" r="3.9"/>
<circle cx="796.9" cy="548.3" r="3.9"/>
<circle cx="803.2" cy="561.3" r="3.9"/>
<circle cx="809.5" cy="557.8" r="3.9"/>
<circle cx="815.8" cy="532.0" r="3.9"/>
<circle cx="822.1" cy="536.4" r="3.9"/>
<circle cx="828.4" cy="561.7" r="3.9"/>
<circle cx="834.7" cy="520.5" r="3.9"/>
<circle cx="841.0" cy="517.0" r="3.9"/>
<circle cx="847.2" cy="555.4" r="3.9"/>
<circle cx="853.5" cy="552.3" r="3.9"/>
<circle cx="859.8" cy="550.1" r="3.9"/>
<circle cx="866.1" cy="565.5" r="3.9"/>
<circle cx="872.4" cy="566.3" r="3.9"/>
<circle cx="878.7" cy="557.3" r="3.9"/>
<circle cx="885.0" cy="551.1" r="3.9"/>
<circle cx="891.3" cy="575.2" r="3.9"/>
<circle cx="897.5" cy="568.2" r="3.9"/>
<circle cx="903.8" cy="532.2" r="3.9"/>
<circle cx="910.1" cy="580.1" r="3.9"/>
<circle cx="916.4" cy="528.0" r="3.9"/>
<circle cx="922.7" cy="534.4" r="3.9"/>
<circle cx="929.0" cy="571.3" r="3.9"/>
<circle cx="935.3" cy="574.4" r="3.9"/>
<circle cx="941.6" cy="594.6" r="3.9"/>
</g>
<g fill="#000000" fill-opacity="0.5" stroke="#000000" stroke-opacity="0.5" stroke-width="1.5">
<circle cx="187.0" cy="124.0" r="3.9"/>
<circle cx="205.9" cy="251.2" r="3.9"/>
<circle cx="224.7" cy="308.2" r="3.9"/>
<circle cx="243.6" cy="327.6" r="3.9"/>
<circle cx="262.5" cy="332.4" r="3.9"/>
<circle cx="281.3" cy="346.3" r="3.9"/>
<circle cx="300.2" cy="377.3" r="3.9"/>
<circle cx="319.0" cy="388.6" r="3.9"/>
<circle cx="337.9" cy="377.1" r="3.9"/>
<circle cx="356.8" cy="397.6" r="3.9"/>
<circle cx="375.6" cy="415.1" r="3.9"/>
<circle cx="394.5" cy="426.0" r="3.9"/>
<circle cx="413.4" cy="417.5" r="3.9"/>
<circle cx="432.2" cy="427.0" r="3.9"/>
<circle cx="451.1" cy="443.7" r="3.9"/>
<circle cx="470.0" cy="443.7" r="3.9"/>
<circle cx="488.8" cy="441.7" r="3.9"/>
<circle cx="507.7" cy="429.0" r="3.9"/>
<circle cx="526.6" cy="423.8" r="3.9"/>
<circle cx="545.4" cy="411.1" r="3.9"/>
<circle cx="564.3" cy="398.2" r="3.9"/>
<circle cx="583.1" cy="426.4" r="3.9"/>
<circle cx="602.0" cy="441.7" r="3.9"/>
<circle cx="620.9" cy="418.9" r="3.9"/>
<circle cx="639.7" cy="438.3" r="3.9"/>
<circle cx="658.6" cy="397.6" r="3.9"/>
<circle cx="677.5" cy="421.1" r="3.9"/>
<circle cx="696.3" cy="418.1" r="3.9"/>
<circle cx="715.2" cy="472.7" r="3.9"/>
<circle cx="734.1" cy="493.6" r="3.9"/>
<circle cx="752.9" cy="450.3" r="3.9"/>
<circle cx="771.8" cy="436.8" r="3.9"/>
<circle cx="790.6" cy="443.3" r="3.9"/>
<circle cx="809.5" cy="503.8" r="3.9"/>
<circle cx="828.4" cy="536.2" r="3.9"/>
<circle cx="847.2" cy="465.6" r="3.9"/>
<circle cx="866.1" cy="410.7" r="3.9"/>
<circle cx="885.0" cy="362.6" r="3.9"/>
<circle cx="903.8" cy="344.1" r="3.9"/>
<circle cx="922.7" cy="312.5" r="3.9"/>
<circle cx="941.6" cy="412.3" r="3.9"/>
</g>
<g fill="#EB6A27" fill-opacity="0.5" stroke="#EB6A27" stroke-opacity="0.5" stroke-width="1.5">
<circle cx="187.0" cy="191.8" r="3.9"/>
<circle cx="193.3" cy="317.9" r="3.9"/>
<circle cx="199.6" cy="342.9" r="3.9"/>
<circle cx="205.9" cy="353.0" r="3.9"/>
<circle cx="212.2" cy="362.8" r="3.9"/>
<circle cx="218.4" cy="363.8" r="3.9"/>
<circle cx="224.7" cy="374.7" r="3.9"/>
<circle cx="231.0" cy="376.1" r="3.9"/>
<circle cx="237.3" cy="380.7" r="3.9"/>
<circle cx="243.6" cy="385.7" r="3.9"/>
<circle cx="249.9" cy="389.6" r="3.9"/>
<circle cx="256.2" cy="388.1" r="3.9"/>
<circle cx="262.5" cy="392.6" r="3.9"/>
<circle cx="268.7" cy="394.0" r="3.9"/>
<circle cx="275.0" cy="396.6" r="3.9"/>
<circle cx="281.3" cy="398.6" r="3.9"/>
<circle cx="287.6" cy="403.6" r="3.9"/>
<circle cx="293.9" cy="406.5" r="3.9"/>
<circle cx="300.2" cy="406.1" r="3.9"/>
<circle cx="306.5" cy="410.5" r="3.9"/>
<circle cx="312.8" cy="413.1" r="3.9"/>
<circle cx="319.0" cy="414.5" r="3.9"/>
<circle cx="325.3" cy="419.5" r="3.9"/>
<circle cx="331.6" cy="419.1" r="3.9"/>
<circle cx="337.9" cy="426.4" r="3.9"/>
<circle cx="344.2" cy="428.4" r="3.9"/>
<circle cx="350.5" cy="427.4" r="3.9"/>
<circle cx="356.8" cy="429.4" r="3.9"/>
<circle cx="363.1" cy="428.4" r="3.9"/>
<circle cx="369.4" cy="434.4" r="3.9"/>
<circle cx="375.6" cy="438.3" r="3.9"/>
<circle cx="381.9" cy="434.4" r="3.9"/>
<circle cx="388.2" cy="440.3" r="3.9"/>
<circle cx="394.5" cy="438.9" r="3.9"/>
<circle cx="400.8" cy="444.9" r="3.9"/>
<circle cx="407.1" cy="446.9" r="3.9"/>
<circle cx="413.4" cy="449.7" r="3.9"/>
<circle cx="419.7" cy="450.3" r="3.9"/>
<circle cx="425.9" cy="449.9" r="3.9"/>
<circle cx="432.2" cy="451.7" r="3.9"/>
<circle cx="438.5" cy="451.3" r="3.9"/>
<circle cx="444.8" cy="445.7" r="3.9"/>
<circle cx="451.1" cy="449.3" r="3.9"/>
<circle cx="457.4" cy="445.7" r="3.9"/>
<circle cx="463.7" cy="449.7" r="3.9"/>
<circle cx="470.0" cy="454.9" r="3.9"/>
<circle cx="476.2" cy="453.7" r="3.9"/>
<circle cx="482.5" cy="455.6" r="3.9"/>
<circle cx="488.8" cy="450.3" r="3.9"/>
<circle cx="495.1" cy="446.9" r="3.9"/>
<circle cx="501.4" cy="446.3" r="3.9"/>
<circle cx="507.7" cy="446.3" r="3.9"/>
<circle cx="514.0" cy="454.9" r="3.9"/>
<circle cx="520.3" cy="448.3" r="3.9"/>
<circle cx="526.6" cy="454.9" r="3.9"/>
<circle cx="532.8" cy="456.2" r="3.9"/>
<circle cx="539.1" cy="456.2" r="3.9"/>
<circle cx="545.4" cy="458.2" r="3.9"/>
<circle cx="551.7" cy="459.2" r="3.9"/>
<circle cx="558.0" cy="462.2" r="3.9"/>
<circle cx="564.3" cy="462.2" r="3.9"/>
<circle cx="570.6" cy="452.9" r="3.9"/>
<circle cx="576.9" cy="453.3" r="3.9"/>
<circle cx="583.1" cy="464.2" r="3.9"/>
<circle cx="589.4" cy="470.5" r="3.9"/>
<circle cx="595.7" cy="469.5" r="3.9"/>
<circle cx="602.0" cy="468.5" r="3.9"/>
<circle cx="608.3" cy="466.6" r="3.9"/>
<circle cx="614.6" cy="464.8" r="3.9"/>
<circle cx="620.9" cy="472.8" r="3.9"/>
<circle cx="627.2" cy="462.4" r="3.9"/>
<circle cx="633.4" cy="460.1" r="3.9"/>
<circle cx="639.7" cy="460.7" r="3.9"/>
<circle cx="646.0" cy="459.3" r="3.9"/>
<circle cx="652.3" cy="450.6" r="3.9"/>
<circle cx="658.6" cy="453.3" r="3.9"/>
<circle cx="664.9" cy="449.3" r="3.9"/>
<circle cx="671.2" cy="449.1" r="3.9"/>
<circle cx="677.5" cy="452.9" r="3.9"/>
<circle cx="683.8" cy="454.7" r="3.9"/>
<circle cx="690.0" cy="465.0" r="3.9"/>
<circle cx="696.3" cy="461.3" r="3.9"/>
<circle cx="702.6" cy="467.2" r="3.9"/>
<circle cx="708.9" cy="471.2" r="3.9"/>
<circle cx="715.2" cy="466.0" r="3.9"/>
<circle cx="721.5" cy="470.8" r="3.9"/>
<circle cx="727.8" cy="472.7" r="3.9"/>
<circle cx="734.1" cy="483.8" r="3.9"/>
<circle cx="740.3" cy="474.2" r="3.9"/>
<circle cx="746.6" cy="484.4" r="3.9"/>
<circle cx="752.9" cy="483.2" r="3.9"/>
<circle cx="759.2" cy="487.7" r="3.9"/>
<circle cx="765.5" cy="478.8" r="3.9"/>
<circle cx="771.8" cy="474.4" r="3.9"/>
<circle cx="778.1" cy="481.8" r="3.9"/>
<circle cx="784.4" cy="480.8" r="3.9"/>
<circle cx="790.6" cy="472.4" r="3.9"/>
<circle cx="796.9" cy="471.2" r="3.9"/>
<circle cx="803.2" cy="471.8" r="3.9"/>
<circle cx="809.5" cy="467.3" r="3.9"/>
<circle cx="815.8" cy="469.3" r="3.9"/>
<circle cx="822.1" cy="476.4" r="3.9"/>
<circle cx="828.4" cy="480.8" r="3.9"/>
<circle cx="834.7" cy="495.3" r="3.9"/>
<circle cx="841.0" cy="472.8" r="3.9"/>
<circle cx="847.2" cy="489.3" r="3.9"/>
<circle cx="853.5" cy="503.3" r="3.9"/>
<circle cx="859.8" cy="496.1" r="3.9"/>
<circle cx="866.1" cy="506.0" r="3.9"/>
<circle cx="872.4" cy="502.3" r="3.9"/>
<circle cx="878.7" cy="498.1" r="3.9"/>
<circle cx="885.0" cy="470.2" r="3.9"/>
<circle cx="891.3" cy="498.7" r="3.9"/>
<circle cx="897.5" cy="494.3" r="3.9"/>
<circle cx="903.8" cy="515.6" r="3.9"/>
<circle cx="910.1" cy="487.1" r="3.9"/>
<circle cx="916.4" cy="497.7" r="3.9"/>
<circle cx="922.7" cy="518.0" r="3.9"/>
<circle cx="929.0" cy="503.3" r="3.9"/>
<circle cx="935.3" cy="535.5" r="3.9"/>
<circle cx="941.6" cy="468.3" r="3.9"/>
</g>
<g fill="#FF0000" fill-opacity="0.5" stroke="#FF0000" stroke-opacity="0.5" stroke-width="1.5">
<circle cx="187.0" cy="115.8" r="3.9"/>
<circle cx="193.3" cy="280.2" r="3.9"/>
<circle cx="199.6" cy="338.0" r="3.9"/>
<circle cx="205.9" cy="357.4" r="3.9"/>
<circle cx="212.2" cy="371.7" r="3.9"/>
<circle cx="218.4" cy="392.0" r="3.9"/>
<circle cx="224.7" cy="392.6" r="3.9"/>
<circle cx="231.0" cy="388.1" r="3.9"/>
<circle cx="237.3" cy="392.6" r="3.9"/>
<circle cx="243.6" cy="397.2" r="3.9"/>
<circle cx="249.9" cy="405.9" r="3.9"/>
<circle cx="256.2" cy="402.0" r="3.9"/>
<circle cx="262.5" cy="427.4" r="3.9"/>
<circle cx="268.7" cy="425.0" r="3.9"/>
<circle cx="275.0" cy="414.5" r="3.9"/>
<circle cx="281.3" cy="418.5" r="3.9"/>
<circle cx="287.6" cy="427.8" r="3.9"/>
<circle cx="293.9" cy="419.9" r="3.9"/>
<circle cx="300.2" cy="437.4" r="3.9"/>
<circle cx="306.5" cy="439.3" r="3.9"/>
<circle cx="312.8" cy="434.4" r="3.9"/>
<circle cx="319.0" cy="441.7" r="3.9"/>
<circle cx="325.3" cy="446.9" r="3.9"/>
<circle cx="331.6" cy="447.7" r="3.9"/>
<circle cx="337.9" cy="454.9" r="3.9"/>
<circle cx="344.2" cy="446.9" r="3.9"/>
<circle cx="350.5" cy="460.2" r="3.9"/>
<circle cx="356.8" cy="459.2" r="3.9"/>
<circle cx="363.1" cy="459.6" r="3.9"/>
<circle cx="369.4" cy="466.2" r="3.9"/>
<circle cx="375.6" cy="467.2" r="3.9"/>
<circle cx="381.9" cy="473.1" r="3.9"/>
<circle cx="388.2" cy="466.2" r="3.9"/>
<circle cx="394.5" cy="465.2" r="3.9"/>
<circle cx="400.8" cy="472.8" r="3.9"/>
<circle cx="407.1" cy="480.8" r="3.9"/>
<circle cx="413.4" cy="469.3" r="3.9"/>
<circle cx="419.7" cy="473.6" r="3.9"/>
<circle cx="425.9" cy="482.2" r="3.9"/>
<circle cx="432.2" cy="481.8" r="3.9"/>
<circle cx="438.5" cy="480.8" r="3.9"/>
<circle cx="444.8" cy="483.2" r="3.9"/>
<circle cx="451.1" cy="488.7" r="3.9"/>
<circle cx="457.4" cy="492.7" r="3.9"/>
<circle cx="463.7" cy="481.8" r="3.9"/>
<circle cx="470.0" cy="506.2" r="3.9"/>
<circle cx="476.2" cy="498.7" r="3.9"/>
<circle cx="482.5" cy="497.7" r="3.9"/>
<circle cx="488.8" cy="483.8" r="3.9"/>
<circle cx="495.1" cy="497.3" r="3.9"/>
<circle cx="501.4" cy="485.4" r="3.9"/>
<circle cx="507.7" cy="489.7" r="3.9"/>
<circle cx="514.0" cy="495.1" r="3.9"/>
<circle cx="520.3" cy="498.3" r="3.9"/>
<circle cx="526.6" cy="501.7" r="3.9"/>
<circle cx="532.8" cy="492.3" r="3.9"/>
<circle cx="539.1" cy="492.3" r="3.9"/>
<circle cx="545.4" cy="495.3" r="3.9"/>
<circle cx="551.7" cy="503.6" r="3.9"/>
<circle cx="558.0" cy="502.3" r="3.9"/>
<circle cx="564.3" cy="503.6" r="3.9"/>
<circle cx="570.6" cy="502.7" r="3.9"/>
<circle cx="576.9" cy="490.3" r="3.9"/>
<circle cx="583.1" cy="494.3" r="3.9"/>
<circle cx="589.4" cy="494.7" r="3.9"/>
<circle cx="595.7" cy="467.8" r="3.9"/>
<circle cx="602.0" cy="486.7" r="3.9"/>
<circle cx="608.3" cy="493.7" r="3.9"/>
<circle cx="614.6" cy="499.1" r="3.9"/>
<circle cx="620.9" cy="494.0" r="3.9"/>
<circle cx="627.2" cy="500.7" r="3.9"/>
<circle cx="633.4" cy="484.4" r="3.9"/>
<circle cx="639.7" cy="497.1" r="3.9"/>
<circle cx="646.0" cy="493.7" r="3.9"/>
<circle cx="652.3" cy="482.4" r="3.9"/>
<circle cx="658.6" cy="505.6" r="3.9"/>
<circle cx="664.9" cy="506.6" r="3.9"/>
<circle cx="671.2" cy="495.7" r="3.9"/>
<circle cx="677.5" cy="480.4" r="3.9"/>
<circle cx="683.8" cy="498.3" r="3.9"/>
<circle cx="690.0" cy="513.6" r="3.9"/>
<circle cx="696.3" cy="500.3" r="3.9"/>
<circle cx="702.6" cy="482.8" r="3.9"/>
<circle cx="708.9" cy="503.6" r="3.9"/>
<circle cx="715.2" cy="516.2" r="3.9"/>
<circle cx="721.5" cy="523.5" r="3.9"/>
<circle cx="727.8" cy="518.6" r="3.9"/>
<circle cx="734.1" cy="514.6" r="3.9"/>
<circle cx="740.3" cy="511.6" r="3.9"/>
<circle cx="746.6" cy="492.7" r="3.9"/>
<circle cx="752.9" cy="494.3" r="3.9"/>
<circle cx="759.2" cy="425.0" r="3.9"/>
<circle cx="765.5" cy="464.8" r="3.9"/>
<circle cx="771.8" cy="494.3" r="3.9"/>
<circle cx="778.1" cy="470.8" r="3.9"/>
<circle cx="784.4" cy="461.0" r="3.9"/>
<circle cx="790.6" cy="476.8" r="3.9"/>
<circle cx="796.9" cy="492.1" r="3.9"/>
<circle cx="803.2" cy="504.0" r="3.9"/>
<circle cx="809.5" cy="538.4" r="3.9"/>
<circle cx="815.8" cy="488.3" r="3.9"/>
<circle cx="822.1" cy="447.2" r="3.9"/>
<circle cx="828.4" cy="503.3" r="3.9"/>
<circle cx="834.7" cy="443.3" r="3.9"/>
<circle cx="841.0" cy="402.0" r="3.9"/>
<circle cx="847.2" cy="444.5" r="3.9"/>
<circle cx="853.5" cy="465.1" r="3.9"/>
<circle cx="859.8" cy="418.3" r="3.9"/>
<circle cx="866.1" cy="471.9" r="3.9"/>
<circle cx="872.4" cy="491.7" r="3.9"/>
<circle cx="878.7" cy="469.1" r="3.9"/>
<circle cx="885.0" cy="540.4" r="3.9"/>
<circle cx="891.3" cy="450.9" r="3.9"/>
<circle cx="897.5" cy="537.4" r="3.9"/>
<circle cx="903.8" cy="373.0" r="3.9"/>
<circle cx="910.1" cy="469.1" r="3.9"/>
<circle cx="916.4" cy="445.0" r="3.9"/>
<circle cx="922.7" cy="361.2" r="3.9"/>
<circle cx="929.0" cy="494.7" r="3.9"/>
<circle cx="935.3" cy="356.7" r="3.9"/>
<circle cx="941.6" cy="390.5" r="3.9"/>
</g>
</svg></body></html>
